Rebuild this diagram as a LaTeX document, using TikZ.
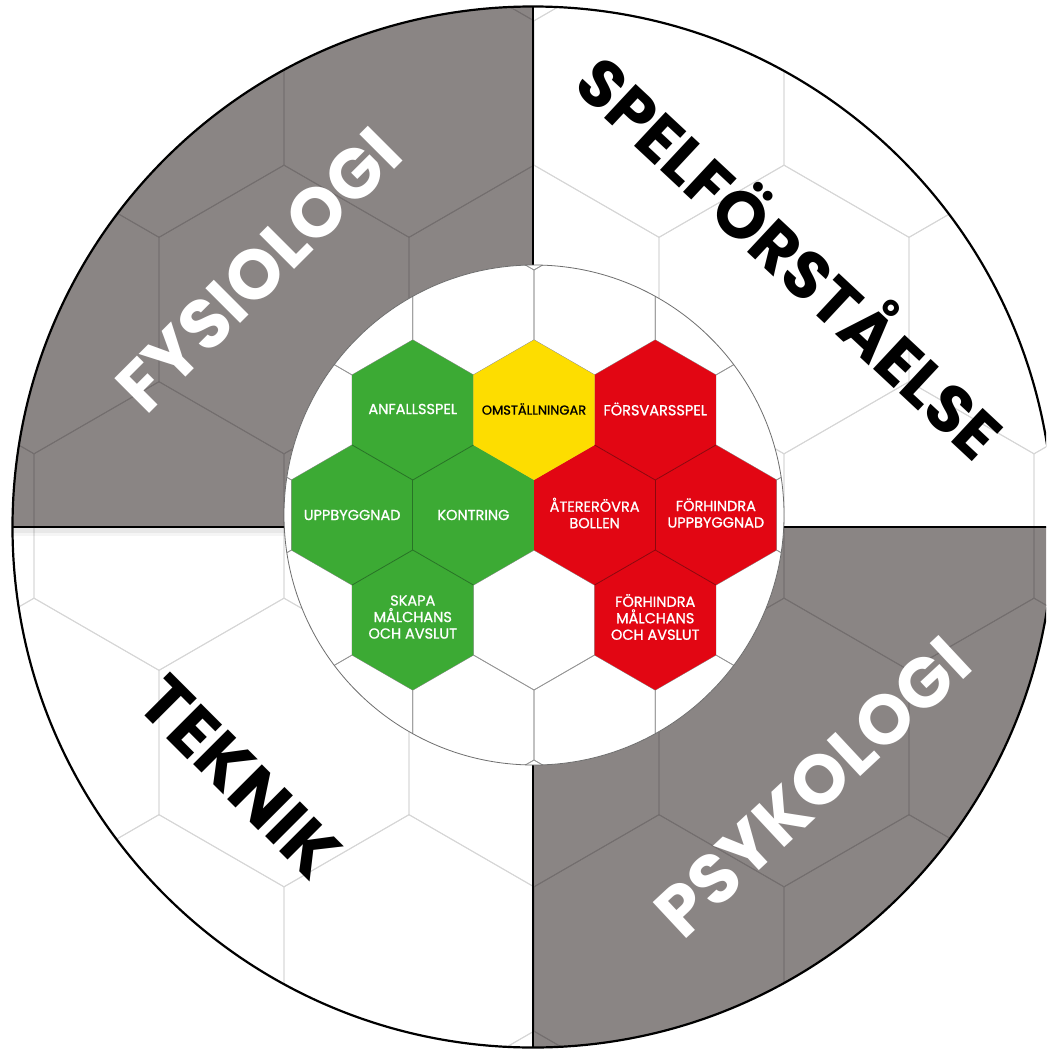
\documentclass[tikz,border=0pt]{standalone}
\usepackage{fontspec}
\newfontfamily\popfont{Poppins}
\newfontfamily\popsmall{Poppins}[FakeBold=1]
\definecolor{quadgray}{RGB}{138,133,132}
\definecolor{gridondark}{RGB}{115,110,110}
\definecolor{gridonlight}{RGB}{214,214,214}
\definecolor{innergridc}{RGB}{150,150,150}
\definecolor{innerrimc}{RGB}{110,110,110}
\definecolor{hexgreen}{RGB}{60,170,52}
\definecolor{hexgreenedge}{RGB}{40,115,38}
\definecolor{hexred}{RGB}{226,6,19}
\definecolor{hexrededge}{RGB}{140,8,14}
\definecolor{hexyellow}{RGB}{253,221,0}
\newcommand\hexp[3]{({#1+0.8660254*#3},{#2-0.5*#3}) -- ({#1},{#2-#3}) -- ({#1-0.8660254*#3},{#2-0.5*#3}) -- ({#1-0.8660254*#3},{#2+0.5*#3}) -- ({#1},{#2+#3}) -- ({#1+0.8660254*#3},{#2+0.5*#3}) -- cycle}
\tikzset{
  outerdark/.style={draw=gridondark, line width=0.9pt},
  outerlight/.style={draw=gridonlight, line width=0.9pt},
  innergrid/.style={draw=innergridc, line width=0.7pt},
  divider/.style={draw=black, line width=2.2pt},
  rim/.style={draw=black, line width=2.2pt},
  innerrim/.style={draw=innerrimc, line width=0.8pt},
  greenhex/.style={fill=hexgreen},
  redhex/.style={fill=hexred},
  yellowhex/.style={fill=hexyellow},
  greenseam/.style={draw=hexgreenedge, line width=0.8pt},
  redseam/.style={draw=hexrededge, line width=0.8pt},
  smalllabel/.style={text=white, font=\popsmall\fontsize{14.5}{16.5}\selectfont, align=center, inner sep=0pt},
  biglabel/.style={font=\popfont\bfseries\fontsize{70}{70}\selectfont, inner sep=0pt, text height=49pt, text depth=0pt}
}
\begin{document}
\begin{tikzpicture}[x=1pt,y=-1pt]
\useasboundingbox (0,0) rectangle (1046,1051);
\clip (0,0) rectangle (1046,1051);
\fill[white] (0,0) rectangle (1046,1051);
\coordinate (O) at (533,527);
% outer disc with quadrants and hex grid
\begin{scope}
  \clip (O) circle[radius=520.5];
  \fill[white] (0,0) rectangle (1100,1100);
  \fill[quadgray] (0,0) rectangle (533,527);
  \fill[quadgray] (533,527) rectangle (1100,1100);
  \begin{scope}
    \clip (533,0) rectangle (1100,527) (0,527) rectangle (533,1100);
    \foreach \j in {-3,...,3}{
      \foreach \i in {-3,...,3}{
        \pgfmathsetmacro\cx{534+250*(\i+0.5*(1-mod(abs(\j),2)))}
        \pgfmathsetmacro\cy{526+216.5*\j}
        \draw[outerlight] \hexp{\cx}{\cy}{144.34};
      }
    }
  \end{scope}
  \begin{scope}
    \clip (0,0) rectangle (533,527) (533,527) rectangle (1100,1100);
    \foreach \j in {-3,...,3}{
      \foreach \i in {-3,...,3}{
        \pgfmathsetmacro\cx{534+250*(\i+0.5*(1-mod(abs(\j),2)))}
        \pgfmathsetmacro\cy{526+216.5*\j}
        \draw[outerdark] \hexp{\cx}{\cy}{144.34};
      }
    }
  \end{scope}
  \draw[black, opacity=0.04, line width=10pt] (0,531) -- (533,531);
  \draw[black, opacity=0.05, line width=5pt] (0,530) -- (533,530);
  \draw[divider] (533,0) -- (533,1100);
  \draw[divider] (0,527) -- (1100,527);
\end{scope}
\draw[rim] (O) circle[radius=520.5];
% inner disc
\coordinate (C) at (534,515);
\fill[white] (C) circle[radius=250];
\begin{scope}
  \clip (C) circle[radius=250];
  \foreach \j in {-3,...,3}{
    \foreach \i in {-4,...,4}{
      \pgfmathsetmacro\cx{534+121.24*(\i+0.5*(1-mod(abs(\j),2)))}
      \pgfmathsetmacro\cy{515+105*\j}
      \draw[innergrid] \hexp{\cx}{\cy}{70};
    }
  }
  \fill[greenhex] \hexp{412.76}{410}{70};
  \fill[greenhex] \hexp{352.14}{515}{70};
  \fill[greenhex] \hexp{473.38}{515}{70};
  \fill[greenhex] \hexp{412.76}{620}{70};
  \fill[redhex] \hexp{655.24}{410}{70};
  \fill[redhex] \hexp{594.62}{515}{70};
  \fill[redhex] \hexp{715.86}{515}{70};
  \fill[redhex] \hexp{655.24}{620}{70};
  \fill[yellowhex] \hexp{534}{410}{70};
  % seams between neighbouring hexagons of one colour
  \draw[greenseam] (352.14,445) -- (412.76,480) -- (473.38,445);
  \draw[greenseam] (412.76,480) -- (412.76,550);
  \draw[greenseam] (352.14,585) -- (412.76,550) -- (473.38,585);
  \draw[redseam] (594.62,445) -- (655.24,480) -- (715.86,445);
  \draw[redseam] (655.24,480) -- (655.24,550);
  \draw[redseam] (594.62,585) -- (655.24,550) -- (715.86,585);
\end{scope}
\draw[innerrim] (C) circle[radius=250];
% hex labels
\node[smalllabel] (anf) at (412.76,409) {ANFALLSSPEL};
\node[smalllabel, text=black, font=\popsmall\fontsize{13}{16}\selectfont] (oms) at (534,409) {OMSTÄLLNINGAR};
\node[smalllabel] (fors) at (655.24,409) {FÖRSVARSSPEL};
\node[smalllabel] (upp) at (352.14,515) {UPPBYGGNAD};
\node[smalllabel] (kon) at (473.38,515) {KONTRING};
\node[smalllabel] (ater) at (594.62,513) {ÅTERERÖVRA\\BOLLEN};
\node[smalllabel] (fupp) at (715.86,513) {FÖRHINDRA\\UPPBYGGNAD};
\node[smalllabel] (skapa) at (412.76,617) {SKAPA\\MÅLCHANS\\OCH AVSLUT};
\node[smalllabel] (fmal) at (655.24,617) {FÖRHINDRA\\MÅLCHANS\\OCH AVSLUT};
% quadrant titles
\node[biglabel, text=white, rotate=45] (fys) at (259,270) {FYSIOLOGI};
\node[biglabel, text=black, rotate=-43, font=\popfont\bfseries\fontsize{66}{66}\selectfont] (spel) at (790,258) {SPELFÖRSTÅELSE};
\node[biglabel, text=black, rotate=-45] (tek) at (240,777) {TEKNIK};
\node[biglabel, text=white, rotate=43] (psy) at (813,787) {PSYKOLOGI};
\end{tikzpicture}
\end{document}
